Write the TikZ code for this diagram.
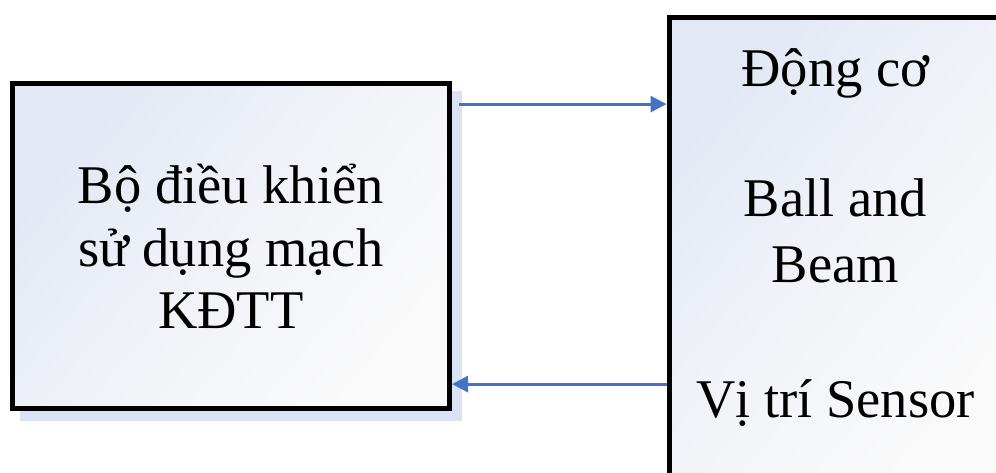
\documentclass[tikz,border=0pt]{standalone}
\usepackage{fontspec}
\setmainfont{Liberation Serif}
\usetikzlibrary{arrows.meta,shadows,calc}
\definecolor{flowblue}{HTML}{4472C4}
\definecolor{shadeblue}{HTML}{DAE3F3}
\definecolor{fillA}{HTML}{E2E8F4}
\definecolor{fillM}{HTML}{F1F3F8}
\definecolor{fillB}{HTML}{FAFAFA}
\newcommand{\bigtext}{\fontsize{54.5}{62}\selectfont}
\begin{document}
\begin{tikzpicture}[x=1pt,y=-1pt,
  block/.style={draw=black, line width=5pt, top color=fillA, bottom color=fillB,
    middle color=fillM, shading angle=50, inner sep=0pt},
  label text/.style={font=\bigtext, anchor=base, inner sep=0pt},
  flow/.style={draw=flowblue, line width=3pt, -{Triangle[length=16pt,width=16pt]}}]
\clip (0,0) rectangle (996,473);
% controller block with its soft shadow
\node[block, general shadow={fill=shadeblue, draw=shadeblue, line width=5pt,
    shadow xshift=10pt, shadow yshift=-10pt},
  minimum width=437.5pt, minimum height=325pt] (ctrl) at (230.75,246.1) {};
\node[label text] (c1) at (230.75,204) {Bộ điều khiển};
\node[label text] (c2) at (230.75,266) {sử dụng mạch};
\node[label text] (c3) at (230.75,328) {KĐTT};
% plant block
\node[block, minimum width=333pt, minimum height=466pt] (plant) at (835.5,251) {};
\node[label text] (p1) at (835.5,87) {Động cơ};
\node[label text] (p2) at (835.5,217) {Ball and};
\node[label text] (p3) at (835.5,282) {Beam};
\node[label text] (p4) at (835.5,417) {Vị trí Sensor};
% signal connections
\coordinate (out) at ($(ctrl.north east)+(7,23)$);
\draw[flow] (out) -- (out -| plant.west);
\coordinate (fb) at ($(plant.west |- ctrl.south)+(0,-27)$);
\draw[flow] (fb) -- (fb -| ctrl.east);
\end{tikzpicture}
\end{document}
